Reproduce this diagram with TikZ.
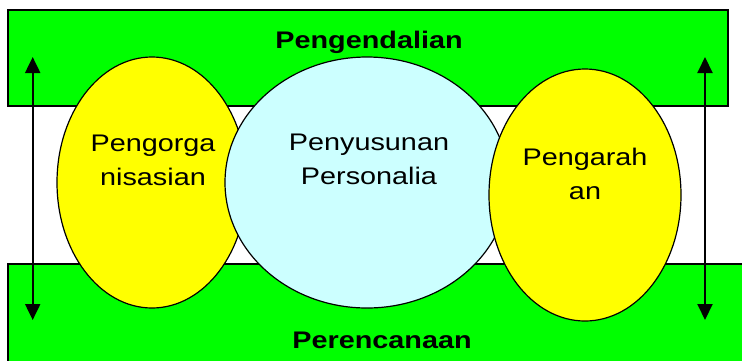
\documentclass[tikz,border=0pt]{standalone}
\usepackage{fontspec}
\setmainfont{Liberation Sans}[FakeStretch=1.2]
\usepackage{tikz}
\usetikzlibrary{arrows.meta,shapes.geometric}
\definecolor{bandgreen}{HTML}{00FF00}
\definecolor{ovalyellow}{HTML}{FFFF00}
\definecolor{ovalcyan}{HTML}{CCFFFF}

\begin{document}
\begin{tikzpicture}[x=1pt,y=-1pt,
  band/.style={draw=black,line width=1.2pt,fill=bandgreen,inner sep=0pt,outer sep=0pt},
  oval/.style={ellipse,draw=black,line width=1.2pt,inner sep=0pt,outer sep=0pt},
  title/.style={anchor=base,font=\fontsize{24}{30}\selectfont\bfseries},
  lbl/.style={anchor=base,align=center,font=\fontsize{24}{34}\selectfont},
  updown/.style={{Triangle[length=16pt,width=15pt]}-{Triangle[length=16pt,width=15pt]},line width=2pt}]
  \clip (0,0) rectangle (742,360);
  % bands
  \node[band,minimum width=720pt,minimum height=96pt] (ctrl) at (368,58) {};
  \node[band,minimum width=752pt,minimum height=106pt] (plan) at (384,317) {};
  \node[title] (ctrltxt) at (369,48) {Pengendalian};
  \node[title] (plantxt) at (382,348) {Perencanaan};
  % ovals
  \node[oval,fill=ovalyellow,minimum width=190pt,minimum height=251pt] (org) at (152,182.5) {};
  \node[oval,fill=ovalcyan,minimum width=284pt,minimum height=251pt] (staff) at (367,182.5) {};
  \node[oval,fill=ovalyellow,minimum width=192pt,minimum height=252pt] (lead) at (585,195) {};
  \node[lbl] (orgtxt) at (153,185) {Pengorga\\nisasian};
  \node[lbl] (stafftxt) at (369,184) {Penyusunan\\Personalia};
  \node[lbl] (leadtxt) at (585,199) {Pengarah\\an};
  % arrows
  \coordinate (ltop) at (32.7,57);
  \coordinate (lbot) at (32.7,320);
  \coordinate (rtop) at (705,57);
  \coordinate (rbot) at (705,320);
  \draw[updown] (lbot) -- (ltop);
  \draw[updown] (rbot) -- (rtop);
\end{tikzpicture}
\end{document}
